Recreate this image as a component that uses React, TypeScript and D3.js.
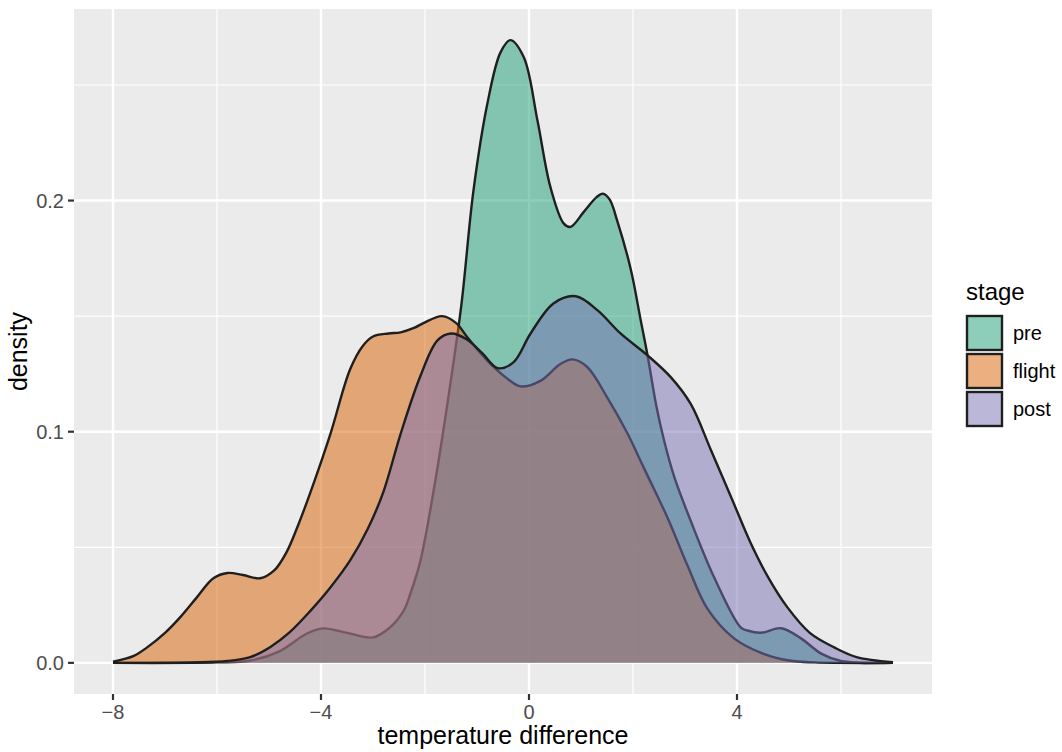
import { useEffect, useRef } from 'react'
import * as d3 from 'd3'

type Pt = [number, number]

const stages = ['pre', 'flight', 'post']
const stageColors = ['#1B9E77', '#D95F02', '#7570B3']

const xTicks = [-8, -4, 0, 4]
const xMinor = [-6, -2, 2, 6]
const yTicks = [0, 0.1, 0.2]
const yMinor = [0.05, 0.15, 0.25]

// density estimates: [temperature difference, density]
const preDensity: Pt[] = [
  [-8, 0], [-6, 0.0002], [-5.36, 0.001], [-4.8, 0.005], [-4.27, 0.0127], [-3.96, 0.0149],
  [-3.5, 0.013], [-3.0, 0.011], [-2.67, 0.0154], [-2.41, 0.0226], [-2.28, 0.03], [-2.09, 0.044],
  [-1.8, 0.079], [-1.55, 0.115], [-1.3, 0.155], [-1.07, 0.204], [-0.8, 0.242], [-0.55, 0.264],
  [-0.36, 0.2694], [-0.1, 0.262], [0.16, 0.235], [0.41, 0.206], [0.67, 0.19], [0.8, 0.1886],
  [1.05, 0.195], [1.3, 0.2015], [1.42, 0.203], [1.55, 0.2005], [1.7, 0.191], [1.96, 0.17],
  [2.15, 0.148], [2.28, 0.133], [2.45, 0.111], [2.6, 0.096], [2.8, 0.08], [3.1, 0.062],
  [3.56, 0.037], [4.07, 0.0154], [4.2, 0.014], [4.46, 0.013], [4.85, 0.015], [5.23, 0.0106],
  [5.62, 0.004], [6.0, 0.0008], [7, 0],
]

const flightDensity: Pt[] = [
  [-8, 0.0005], [-7.6, 0.003], [-7.35, 0.0066], [-7.0, 0.013], [-6.71, 0.0197], [-6.4, 0.028],
  [-6.07, 0.0366], [-5.8, 0.0389], [-5.5, 0.038], [-5.17, 0.0366], [-4.9, 0.04], [-4.66, 0.048],
  [-4.45, 0.059], [-4.2, 0.074], [-3.82, 0.099], [-3.44, 0.127], [-3.2, 0.137], [-3.0, 0.1412],
  [-2.7, 0.1425], [-2.47, 0.143], [-2.2, 0.145], [-2.03, 0.147], [-1.67, 0.15], [-1.4, 0.147],
  [-1.19, 0.141], [-0.93, 0.134], [-0.68, 0.128], [-0.42, 0.123], [-0.16, 0.1196], [0.22, 0.122],
  [0.61, 0.1294], [0.84, 0.1313], [1.12, 0.128], [1.5, 0.115], [1.9, 0.099], [2.09, 0.09],
  [2.28, 0.081], [2.66, 0.063], [3.05, 0.042], [3.43, 0.0235], [3.95, 0.0105], [4.5, 0.004],
  [5.0, 0.001], [5.5, 0.0002], [7, 0],
]

const postDensity: Pt[] = [
  [-8, 0], [-6.5, 0.0002], [-5.8, 0.0008], [-5.36, 0.0025], [-4.98, 0.0068], [-4.6, 0.0133],
  [-4.2, 0.0226], [-3.82, 0.0326], [-3.44, 0.0443], [-3.1, 0.058], [-2.8, 0.074], [-2.47, 0.099],
  [-2.09, 0.124], [-1.76, 0.1395], [-1.5, 0.1425], [-1.2, 0.14], [-0.9, 0.134], [-0.6, 0.1275],
  [-0.3, 0.13], [0.03, 0.1425], [0.47, 0.1555], [0.9, 0.1586], [1.32, 0.1525], [1.76, 0.1425],
  [2.28, 0.133], [2.73, 0.1235], [3.11, 0.112], [3.5, 0.092], [3.9, 0.071], [4.26, 0.052],
  [4.6, 0.037], [4.97, 0.024], [5.4, 0.013], [5.87, 0.0067], [6.3, 0.0025], [7, 0.0003],
]

const seriesData = [preDensity, flightDensity, postDensity]

function DensityChart() {
  const svgRef = useRef<SVGSVGElement | null>(null)

  useEffect(() => {
    const width = 1062
    const height = 752
    const panel = { left: 74, right: 932, top: 9, bottom: 694 }
    const font = '"Liberation Sans", Arial, Helvetica, sans-serif'

    const svg = d3.select(svgRef.current)
    svg.selectAll('*').remove()
    svg.attr('width', width).attr('height', height)

    const xMin = -8
    const xMax = 7
    const xPad = (xMax - xMin) * 0.05
    const yMax = d3.max(seriesData.flat(), (d) => d[1]) || 0.27
    const yPad = yMax * 0.05

    const x = d3.scaleLinear().domain([xMin - xPad, xMax + xPad]).range([panel.left, panel.right])
    const y = d3.scaleLinear().domain([-yPad, yMax + yPad]).range([panel.bottom, panel.top])

    svg
      .append('rect')
      .attr('x', panel.left)
      .attr('y', panel.top)
      .attr('width', panel.right - panel.left)
      .attr('height', panel.bottom - panel.top)
      .attr('fill', '#EBEBEB')

    const grid = svg.append('g')
    const vLines = (vals: number[], w: number) =>
      grid
        .append('g')
        .selectAll('line')
        .data(vals)
        .join('line')
        .attr('x1', (d) => x(d))
        .attr('x2', (d) => x(d))
        .attr('y1', panel.top)
        .attr('y2', panel.bottom)
        .attr('stroke', '#fff')
        .attr('stroke-width', w)
    const hLines = (vals: number[], w: number) =>
      grid
        .append('g')
        .selectAll('line')
        .data(vals)
        .join('line')
        .attr('x1', panel.left)
        .attr('x2', panel.right)
        .attr('y1', (d) => y(d))
        .attr('y2', (d) => y(d))
        .attr('stroke', '#fff')
        .attr('stroke-width', w)
    vLines(xMinor, 1.2)
    hLines(yMinor, 1.2)
    vLines(xTicks, 2.4)
    hLines(yTicks, 2.4)

    const curve = d3.curveCatmullRom.alpha(0.5)
    const area = d3
      .area<Pt>()
      .x((d) => x(d[0]))
      .y0(y(0))
      .y1((d) => y(Math.max(0, d[1])))
      .curve(curve)
    const line = d3
      .line<Pt>()
      .x((d) => x(d[0]))
      .y((d) => y(d[1]))
      .curve(curve)

    const marks = svg.append('g')
    seriesData.forEach((pts, i) => {
      marks
        .append('path')
        .attr('d', area(pts))
        .attr('fill', stageColors[i])
        .attr('fill-opacity', 0.5)
      marks
        .append('path')
        .attr('d', line(pts))
        .attr('fill', 'none')
        .attr('stroke', '#1f1f1f')
        .attr('stroke-width', 2.4)
        .attr('stroke-linejoin', 'round')
    })

    // axes
    const axes = svg.append('g').attr('font-family', font)
    axes
      .selectAll('line.xt')
      .data(xTicks)
      .join('line')
      .attr('x1', (d) => x(d))
      .attr('x2', (d) => x(d))
      .attr('y1', panel.bottom)
      .attr('y2', panel.bottom + 6)
      .attr('stroke', '#333')
      .attr('stroke-width', 2.2)
    axes
      .selectAll('text.xt')
      .data(xTicks)
      .join('text')
      .attr('x', (d) => x(d))
      .attr('y', panel.bottom + 25)
      .attr('text-anchor', 'middle')
      .attr('font-size', 20)
      .attr('fill', '#4D4D4D')
      .text((d) => (d < 0 ? '\u2212' + Math.abs(d) : String(d)))
    axes
      .selectAll('line.yt')
      .data(yTicks)
      .join('line')
      .attr('x1', panel.left - 6)
      .attr('x2', panel.left)
      .attr('y1', (d) => y(d))
      .attr('y2', (d) => y(d))
      .attr('stroke', '#333')
      .attr('stroke-width', 2.2)
    axes
      .selectAll('text.yt')
      .data(yTicks)
      .join('text')
      .attr('x', panel.left - 10)
      .attr('y', (d) => y(d))
      .attr('dy', '0.36em')
      .attr('text-anchor', 'end')
      .attr('font-size', 20)
      .attr('fill', '#4D4D4D')
      .text((d) => d3.format('.1f')(d))

    axes
      .append('text')
      .attr('x', (panel.left + panel.right) / 2)
      .attr('y', 744)
      .attr('text-anchor', 'middle')
      .attr('font-size', 25)
      .attr('fill', '#000')
      .text('temperature difference')
    axes
      .append('text')
      .attr('transform', `translate(27,${(panel.top + panel.bottom) / 2}) rotate(-90)`)
      .attr('text-anchor', 'middle')
      .attr('font-size', 25)
      .attr('fill', '#000')
      .text('density')

    // legend
    const legend = svg.append('g').attr('font-family', font)
    legend
      .append('text')
      .attr('x', 966)
      .attr('y', 300)
      .attr('font-size', 24)
      .attr('fill', '#000')
      .text('stage')
    const keys = legend
      .selectAll('g.key')
      .data(stages)
      .join('g')
      .attr('transform', (_d, i) => `translate(966,${314 + i * 38})`)
    keys
      .append('rect')
      .attr('x', 1)
      .attr('y', 2)
      .attr('width', 35)
      .attr('height', 34)
      .attr('fill', (_d, i) => stageColors[i])
      .attr('fill-opacity', 0.5)
      .attr('stroke', '#1f1f1f')
      .attr('stroke-width', 2.4)
    keys
      .append('text')
      .attr('x', 47)
      .attr('y', 19)
      .attr('dy', '0.36em')
      .attr('font-size', 20)
      .attr('fill', '#000')
      .text((d) => d)
  }, [])

  return <svg ref={svgRef} style={{ position: 'absolute', left: 0, top: 0 }} />
}

export default function App() {
  return <DensityChart />
}
